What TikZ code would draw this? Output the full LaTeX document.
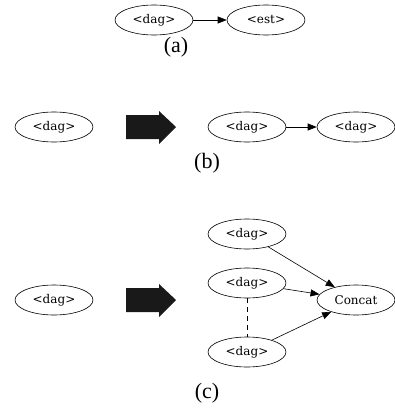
\documentclass[tikz,border=0pt]{standalone}
\usepackage{fontspec}
\usepackage{tikz}
\usetikzlibrary{shapes.geometric, arrows.meta}
\newfontfamily\dagfont{DejaVu Serif}
\newfontfamily\capfont{Liberation Serif}
\tikzset{
  dagnode/.style={ellipse, draw, line width=.6pt, minimum width=78pt, minimum height=30pt, inner sep=0pt, font=\dagfont\fontsize{12}{14}\selectfont},
  edge/.style={line width=.6pt, -{Triangle[length=9pt,width=7pt]}},
  caption/.style={font=\capfont\fontsize{22}{26}\selectfont, inner sep=0pt},
  bigarrow/.style={fill=black!90}
}
\begin{document}
\begin{tikzpicture}[x=1pt,y=-1pt]
\useasboundingbox (0,0) rectangle (395,412);
% (a)
\node[dagnode] (adag) at (154,20) {<dag>};
\node[dagnode] (aest) at (266,20) {<est>};
\draw[edge] (adag) -- (aest);
\node[caption] (acap) at (176,47) {(a)};
% (b)
\node[dagnode] (bdag) at (54,127) {<dag>};
\fill[bigarrow] (126,115) -- (159,115) -- (159,111) -- (176,127) -- (159,144) -- (159,139) -- (126,139) -- cycle;
\node[dagnode] (bleft) at (247,127) {<dag>};
\node[dagnode] (bright) at (356,127) {<dag>};
\draw[edge] (bleft) -- (bright);
\node[caption] (bcap) at (207,163) {(b)};
% (c)
\node[dagnode] (cdag) at (54,300) {<dag>};
\fill[bigarrow] (126,288) -- (159,288) -- (159,284) -- (176,300) -- (159,317) -- (159,312) -- (126,312) -- cycle;
\node[dagnode] (ctop) at (247,234) {<dag>};
\node[dagnode] (cmid) at (247,283) {<dag>};
\node[dagnode] (cbot) at (247,352) {<dag>};
\node[dagnode] (concat) at (356,300) {Concat};
\draw[edge] (ctop) -- (concat);
\draw[edge] (cmid) -- (concat);
\draw[edge] (cbot) -- (concat);
\draw[line width=.6pt, dash pattern=on 5pt off 4pt] (cmid) -- (cbot);
\node[caption] (ccap) at (207,393) {(c)};
\end{tikzpicture}
\end{document}
